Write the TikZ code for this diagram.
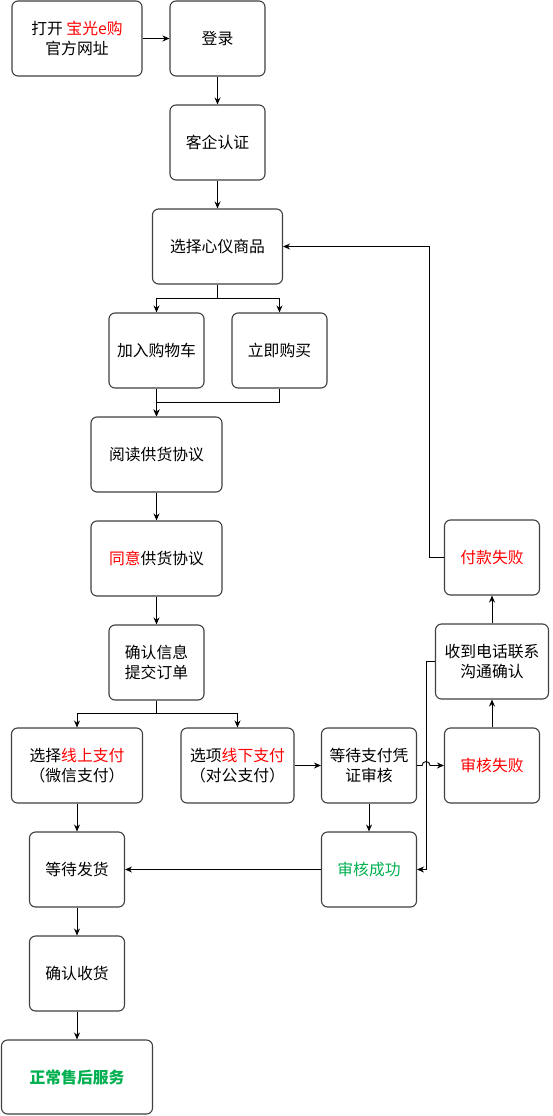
\documentclass[tikz,border=0pt]{standalone}
\usepackage{fontspec}
\setmainfont{Noto Sans CJK SC}
\usepackage{tikz}
\usetikzlibrary{arrows.meta}

\definecolor{okgreen}{RGB}{0,176,80}
\tikzset{
  stepbox/.style={draw=black!75,line width=1.1pt,rounded corners=6pt,fill=white,
    minimum width=95pt,minimum height=75pt,align=center,inner sep=2pt,
    font=\fontsize{15.8}{20}\selectfont},
  link/.style={-{Stealth[length=7pt,width=6pt]},line width=0.9pt,black},
  plain/.style={line width=0.9pt,black}
}

\begin{document}
\begin{tikzpicture}[x=1pt,y=-1pt]
  \useasboundingbox (0,0) rectangle (553,1116);
  % boxes
  \node[stepbox,minimum width=130pt] (open) at (77,38.5) {打开 \textcolor{red}{宝光e购}\\官方网址};
  \node[stepbox] (login) at (217.5,38.5) {登录};
  \node[stepbox] (auth) at (217.5,142.5) {客企认证};
  \node[stepbox,minimum width=130pt] (select) at (217.5,246.5) {选择心仪商品};
  \node[stepbox] (cart) at (156.5,350.5) {加入购物车};
  \node[stepbox] (buy) at (279.5,350.5) {立即购买};
  \node[stepbox,minimum width=131pt] (read) at (156.5,454.5) {阅读供货协议};
  \node[stepbox,minimum width=131pt] (agree) at (156.5,558.5) {\textcolor{red}{同意}供货协议};
  \node[stepbox] (confirm) at (156.5,662.5) {确认信息\\提交订单};
  \node[stepbox,minimum width=131pt] (online) at (77,765.5) {选择\textcolor{red}{线上支付}\\（微信支付）};
  \node[stepbox,minimum width=113pt] (offline) at (237.5,765.5) {选项\textcolor{red}{线下支付}\\（对公支付）};
  \node[stepbox] (wait) at (369,765.5) {等待支付凭\\证审核};
  \node[stepbox] (fail) at (492,765.5) {\textcolor{red}{审核失败}};
  \node[stepbox] (ok) at (369,869.5) {\textcolor{okgreen}{审核成功}};
  \node[stepbox] (ship) at (77,869.5) {等待发货};
  \node[stepbox] (recv) at (77,973.5) {确认收货};
  \node[stepbox,minimum width=151pt,minimum height=74pt] (after) at (77,1077) {\textcolor{okgreen}{\bfseries 正常售后服务}};
  \node[stepbox,minimum width=113pt] (call) at (492,661.5) {收到电话联系\\沟通确认};
  \node[stepbox] (payfail) at (492,557.5) {\textcolor{red}{付款失败}};
  % connectors
  \draw[link] (open) -- (login);
  \draw[link] (login) -- (auth);
  \draw[link] (auth) -- (select);
  \draw[link] (select.south) -- ++(0,14) -| (cart.north);
  \draw[link] (select.south) -- ++(0,14) -| (buy.north);
  \draw[link] (cart) -- (read);
  \draw[link] (buy.south) -- ++(0,14) -| (read.north);
  \draw[link] (read) -- (agree);
  \draw[link] (agree) -- (confirm);
  \draw[link] (confirm.south) -- ++(0,13) -| (online.north);
  \draw[link] (confirm.south) -- ++(0,13) -| (offline.north);
  \draw[link] (offline) -- (wait);
  \draw[link] (wait.east) -- ++(5,0) arc[start angle=180,end angle=360,radius=4] -- (fail.west);
  \draw[link] (wait) -- (ok);
  \draw[link] (ok) -- (ship);
  \draw[link] (online) -- (ship);
  \draw[link] (ship) -- (recv);
  \draw[link] (recv) -- (after);
  \draw[link] (fail) -- (call);
  \draw[link] (call) -- (payfail);
  \draw[link] (call.west) -- ++(-9,0) |- (ok.east);
  \draw[link] (payfail.west) -- ++(-15,0) |- (select.east);
\end{tikzpicture}
\end{document}
